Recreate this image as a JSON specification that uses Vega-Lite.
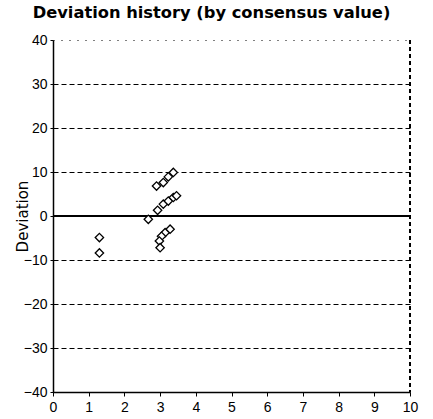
{
  "$schema": "https://vega.github.io/schema/vega-lite/v6.json",
  "width": 357,
  "height": 352,
  "autosize": {"type": "none"},
  "padding": {"left": 53, "top": 40, "right": 23, "bottom": 27},
  "background": "white",
  "config": {
    "view": {"stroke": null},
    "font": "Liberation Sans"
  },
  "title": {
    "text": "Deviation history (by consensus value)",
    "font": "DejaVu Sans",
    "fontSize": 16.3,
    "fontWeight": "bold",
    "color": "black",
    "anchor": "middle",
    "dx": -20,
    "offset": 12
  },
  "data": {
    "values": [
      {"value": 1.3, "deviation": -4.9},
      {"value": 1.3, "deviation": -8.4},
      {"value": 2.67, "deviation": -0.75},
      {"value": 2.93, "deviation": 1.3},
      {"value": 3.09, "deviation": 2.7},
      {"value": 3.23, "deviation": 3.4},
      {"value": 3.37, "deviation": 4.2},
      {"value": 3.46, "deviation": 4.6},
      {"value": 2.9, "deviation": 6.8},
      {"value": 3.09, "deviation": 7.6},
      {"value": 3.23, "deviation": 8.9},
      {"value": 3.37, "deviation": 9.9},
      {"value": 3.28, "deviation": -3.0},
      {"value": 3.14, "deviation": -3.8},
      {"value": 3.04, "deviation": -4.6},
      {"value": 2.98, "deviation": -5.7},
      {"value": 3.0, "deviation": -7.2}
    ]
  },
  "encoding": {
    "x": {
      "field": "value",
      "type": "quantitative",
      "scale": {"domain": [0, 10], "nice": false, "zero": false},
      "axis": {
        "title": null,
        "values": [0, 1, 2, 3, 4, 5, 6, 7, 8, 9, 10],
        "grid": false,
        "domainColor": "black",
        "domainWidth": 1.5,
        "tickColor": "black",
        "tickSize": 4,
        "labelFontSize": 14,
        "labelColor": "black",
        "labelPadding": 4,
        "labelFlush": false,
        "labelOverlap": false
      }
    },
    "y": {
      "field": "deviation",
      "type": "quantitative",
      "scale": {"domain": [-40, 40], "nice": false},
      "axis": {
        "title": "Deviation",
        "titleFont": "DejaVu Sans",
        "titleFontSize": 15,
        "titleFontWeight": "normal",
        "titleColor": "black",
        "titlePadding": -7,
        "values": [-40, -30, -20, -10, 0, 10, 20, 30, 40],
        "grid": true,
        "gridColor": "black",
        "gridOpacity": 1,
        "gridWidth": 1,
        "gridDash": {"condition": {"test": "datum.value == 40", "value": [1, 7]}, "value": [5, 3]},
        "domainColor": "black",
        "domainWidth": 1.5,
        "tickColor": "black",
        "tickSize": 3,
        "labelFontSize": 14,
        "labelColor": "black",
        "labelPadding": 3,
        "labelOverlap": false
      }
    }
  },
  "layer": [
    {
      "mark": {"type": "rule", "color": "black", "strokeDash": [4, 3], "strokeWidth": 1},
      "encoding": {"x": {"datum": 10, "type": "quantitative"}, "y": null}
    },
    {
      "mark": {"type": "rule", "color": "black", "strokeWidth": 1.2},
      "encoding": {"y": {"datum": 0, "type": "quantitative"}, "x": null}
    },
    {
      "mark": {"type": "point", "shape": "diamond", "size": 70, "filled": false, "stroke": "black", "strokeWidth": 1.3, "fill": "white", "fillOpacity": 1}
    }
  ]
}
